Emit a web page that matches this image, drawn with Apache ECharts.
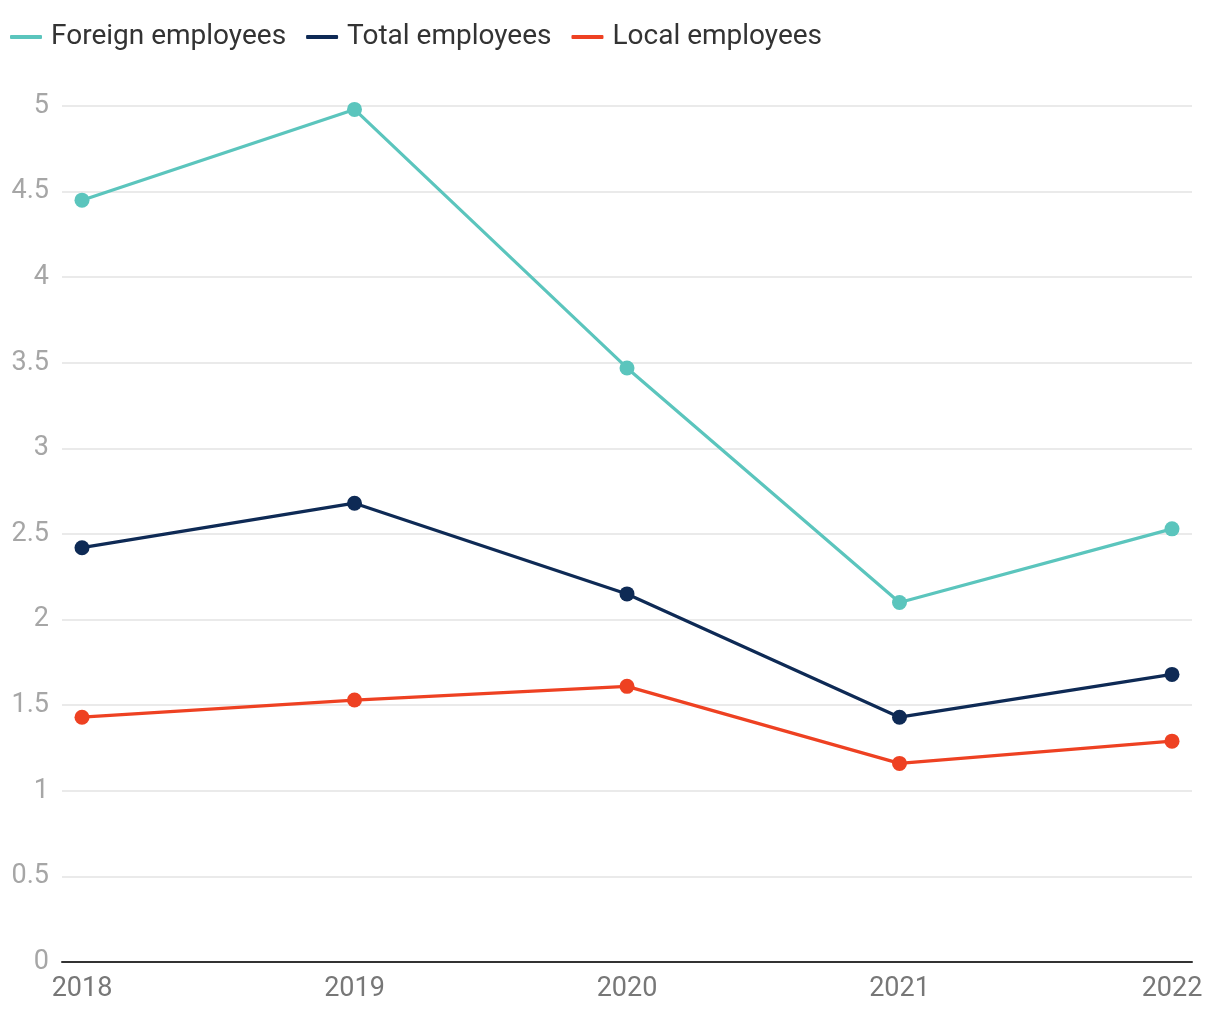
<!DOCTYPE html>
<html>
<head>
<meta charset="utf-8">
<script src="https://cdn.jsdelivr.net/npm/echarts@6/dist/echarts.min.js"></script>
<style>
  html, body { margin: 0; padding: 0; background: #fff; }
  #chart { width: 1220px; height: 1020px; }
</style>
</head>
<body>
<div id="chart"></div>
<script>
var years = [2018, 2019, 2020, 2021, 2022];
var foreignEmployees = [4.45, 4.98, 3.47, 2.10, 2.53];
var totalEmployees = [2.42, 2.68, 2.15, 1.43, 1.68];
var localEmployees = [1.43, 1.53, 1.61, 1.16, 1.29];
var yTicks = [0, 0.5, 1, 1.5, 2, 2.5, 3, 3.5, 4, 4.5, 5];

function pairs(vals) {
  return years.map(function (y, i) { return [y, vals[i]]; });
}

var FONT = 'Roboto';
var chart = echarts.init(document.getElementById('chart'));

function lineSeries(name, color, vals) {
  return {
    name: name,
    type: 'line',
    data: pairs(vals),
    symbol: 'circle',
    symbolSize: 15,
    showSymbol: true,
    lineStyle: { width: 3.2, color: color },
    itemStyle: { color: color },
    emphasis: { disabled: true },
    animation: false
  };
}

chart.setOption({
  backgroundColor: '#ffffff',
  animation: false,
  legend: {
    left: 5,
    top: 18,
    icon: 'roundRect',
    itemWidth: 32,
    itemHeight: 4,
    itemGap: 20,
    textStyle: { fontFamily: FONT, fontSize: 28, color: '#333333', padding: [0, 0, 0, 4] },
    data: ['Foreign employees', 'Total employees', 'Local employees']
  },
  grid: { left: 62, right: 28, top: 106, bottom: 58, containLabel: false },
  xAxis: {
    type: 'value',
    min: 2018 - 20 / 272.5,
    max: 2022 + 20 / 272.5,
    axisLine: { show: true, lineStyle: { color: '#333333', width: 2 } },
    axisTick: { show: false },
    splitLine: { show: false },
    axisLabel: {
      customValues: years,
      fontFamily: FONT,
      fontSize: 27,
      color: '#777777',
      margin: 14,
      formatter: function (v) { return String(Math.round(v)); }
    }
  },
  yAxis: {
    type: 'value',
    min: 0,
    max: 5,
    interval: 0.5,
    axisLine: { show: false },
    axisTick: { show: false },
    splitLine: { show: true, lineStyle: { color: '#e3e3e3', width: 1.5 } },
    axisLabel: {
      fontFamily: FONT,
      fontSize: 27,
      color: '#a6a6a6',
      margin: 13,
      formatter: function (v) { return String(v); }
    }
  },
  series: [
    lineSeries('Foreign employees', '#5bc5bd', foreignEmployees),
    lineSeries('Total employees', '#0e2a55', totalEmployees),
    lineSeries('Local employees', '#ee4122', localEmployees)
  ]
});
</script>
</body>
</html>
